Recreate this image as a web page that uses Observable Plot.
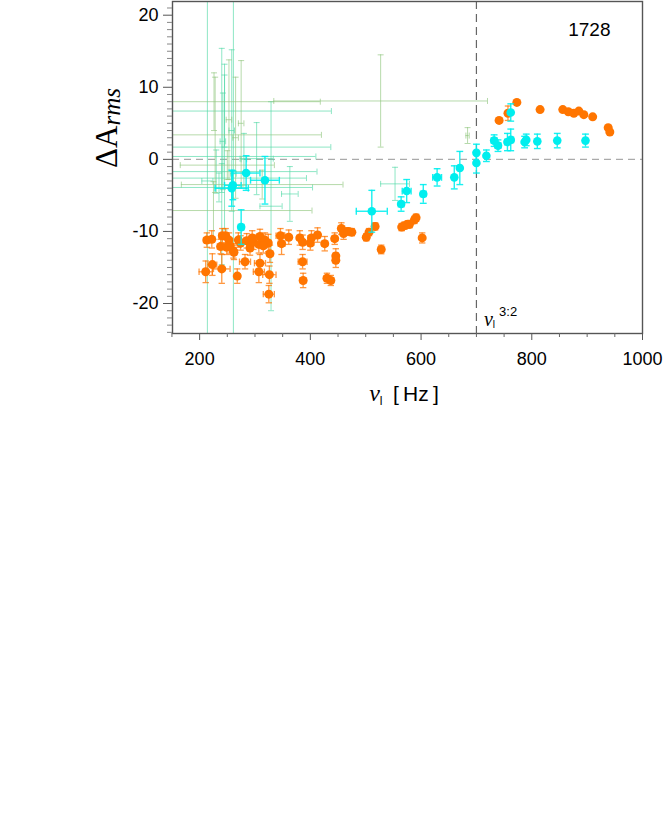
<!DOCTYPE html>
<html><head><meta charset="utf-8">
<script src="https://cdn.jsdelivr.net/npm/d3@7"></script>
<script src="https://cdn.jsdelivr.net/npm/@observablehq/plot@0.6"></script>
<style>
body{margin:0;background:#fff;font-family:"Liberation Sans",Arial,sans-serif}
</style>
</head><body><div id="chart"></div>
<script>
// ---------- data ----------
const orangeNu    = [211,213,222,223,238,240,241,247,253,255,261,268,270,274,282,285,291,297,307,307,309,309,318,324,326,325,327,346,348,361,381,386,386,387,400,402,413,426,430,437,444,446,446,456,460,468,475,501,506,517,528,565,570,576,579,588,591,602,741,757,773,815,856,866,876,885,894,910,938,941,249,262,295,315];
const orangeDA    = [-15.6,-11.2,-11.1,-14.6,-12.1,-15.2,-10.6,-10.6,-11.2,-12.0,-12.7,-16.2,-11.2,-11.6,-14.2,-11.3,-12.3,-11.5,-11.8,-15.6,-10.7,-14.4,-11.2,-11.6,-16.0,-18.7,-13.1,-10.6,-11.7,-10.8,-10.9,-11.5,-14.2,-16.8,-11.6,-10.9,-10.5,-11.7,-16.5,-16.8,-11.0,-13.4,-14.0,-9.6,-10.3,-10.0,-10.1,-10.8,-10.1,-9.3,-12.5,-9.4,-9.2,-9.0,-9.0,-8.4,-8.1,-10.9,5.4,6.4,7.9,6.9,6.9,6.6,6.4,6.7,6.2,5.9,4.4,3.8,-12.2,-12.9,-10.9,-12.0];
const orangeNuErr = [12,6,5,8,6,15,6,5,5,5,5,5,5,5,10,5,5,5,5,10,5,10,5,5,12,10,5,8,6,5,5,5,8,5,5,5,5,5,5,5,5,3,3,3,3,3,3,3,3,3,3,3,3,3,5,3,3,3,0,3,0,0,0,0,0,0,0,0,0,0,5,5,5,5];
const orangeDAErr = [1.5,1.0,1.2,1.5,1.0,2.0,1.0,1.0,1.0,1.0,1.0,1.0,1.0,1.0,1.0,1.0,1.0,1.0,1.2,1.5,1.0,1.2,1.0,1.2,1.2,1.2,1.2,1.0,1.5,1.0,1.0,1.0,1.0,1.0,1.0,1.0,1.0,1.0,0.7,0.7,0.8,1.0,1.0,0.8,0.8,0.5,0.5,0.5,0.5,0.5,0.6,0.5,0.5,0.5,0.5,0.5,0.5,0.7,0.3,1.0,0,0,0,0,0,0,0,0,0,0,1.0,1.0,1.0,1.0];

const cyanNu    = [258,260,275,284,318,511,564,574,604,629,660,670,700,700,718,732,739,756,762,762,787,790,810,846,897];
const cyanDA    = [-4.0,-3.6,-9.4,-1.9,-2.9,-7.2,-6.2,-4.4,-4.8,-2.5,-2.5,-1.2,0.9,-0.5,0.5,2.6,1.9,2.4,2.7,6.5,2.4,2.7,2.5,2.6,2.6];
const cyanNuErr = [30,15,5,25,26,28,5,8,5,8,3,3,3,3,3,5,5,5,5,3,3,3,3,3,3];
const cyanDAErr = [2.5,2.0,2.4,2.4,3.3,2.9,1.0,1.6,1.3,1.2,1.6,2.3,1.2,1.4,0.8,0.8,0.8,1.2,1.5,1.2,0.8,0.8,1.0,1.0,0.9];

// error-bar-only series (two groups)
const tealNu    = [245,245,240,214,261,303,329,363,553,230,240,235,258,280,242];
const tealDA    = [6.7,1.7,0.4,-3.0,-2.0,0.1,-6.5,-4.8,-3.4,-1.7,-2.6,-3.9,4.0,0.0,2.5];
const tealNuErr = [193,192,170,10,5,30,20,15,26,182,153,169,5,5,5];
const tealDAErr = [5.0,11.5,15.0,40,40,5.0,14.5,3.8,2.3,3.0,2.0,2.0,11.2,3.6,6.7];

const oliveNu    = [527,226,228,225,313,684,250,253,265,275];
const oliveDA    = [8.1,8.0,3.4,-7.1,-3.5,3.3,-0.8,5.5,3.0,5.0];
const oliveNuErr = [193,192,192,178,146,3,85,5,5,5];
const oliveDAErr = [6.4,4.0,8.0,4.0,2.0,1.1,2.0,8.3,8.4,8.7];

const xMajor = [200,400,600,800,1000];
const yMajor = [-20,-10,0,10,20];
const sourceLabel = "1728";
const nu32 = 700;

// ---------- tables ----------
const table = (nu, da, ne, de) => nu.map((x,i)=>({x, y: da[i], xe: ne[i], ye: de[i]}));
const orange = table(orangeNu, orangeDA, orangeNuErr, orangeDAErr);
const cyan   = table(cyanNu, cyanDA, cyanNuErr, cyanDAErr);
const teal   = table(tealNu, tealDA, tealNuErr, tealDAErr);
const olive  = table(oliveNu, oliveDA, oliveNuErr, oliveDAErr);

const capH = {draw(ctx, size){const r=Math.sqrt(size/Math.PI); ctx.moveTo(-r,0); ctx.lineTo(r,0);}};
const capV = {draw(ctx, size){const r=Math.sqrt(size/Math.PI); ctx.moveTo(0,-r); ctx.lineTo(0,r);}};

function errorBars(data, color, sw, op, capR){
  const st = {stroke: color, strokeWidth: sw, strokeOpacity: op, clip: true};
  return [
    Plot.ruleX(data.filter(d=>d.ye>0), {x:"x", y1:d=>d.y-d.ye, y2:d=>d.y+d.ye, ...st}),
    Plot.ruleY(data.filter(d=>d.xe>0), {y:"y", x1:d=>d.x-d.xe, x2:d=>d.x+d.xe, ...st}),
    Plot.dot(data.filter(d=>d.ye>0), {x:"x", y:d=>d.y+d.ye, symbol:capH, r:capR, fill:"none", ...st}),
    Plot.dot(data.filter(d=>d.ye>0), {x:"x", y:d=>d.y-d.ye, symbol:capH, r:capR, fill:"none", ...st}),
    Plot.dot(data.filter(d=>d.xe>0), {x:d=>d.x-d.xe, y:"y", symbol:capV, r:capR, fill:"none", ...st}),
    Plot.dot(data.filter(d=>d.xe>0), {x:d=>d.x+d.xe, y:"y", symbol:capV, r:capR, fill:"none", ...st})
  ];
}

const xMinor = d3.range(150, 1001, 50).filter(v=>!xMajor.includes(v));
const yMinor = d3.range(-24, 22, 1).filter(v=>!yMajor.includes(v));

const ORANGE = "#ff7500", CYAN = "#00eeee", TEAL = "#52d8a6", OLIVE = "#8fc47c";

const plot = Plot.plot({
  width: 664, height: 410,
  marginTop: 1, marginBottom: 77, marginLeft: 172, marginRight: 22,
  style: {fontFamily: '"Liberation Sans", Arial, sans-serif', fontSize: "18px", color: "#000", background: "#fff"},
  x: {domain: [151, 1000]},
  y: {domain: [-24.16, 21.9]},
  marks: [
    Plot.ruleY([0], {stroke: "#aaa", strokeWidth: 1.3, strokeDasharray: "7,5"}),
    Plot.ruleX([nu32], {stroke: "#666", strokeWidth: 1.2, strokeDasharray: "8,5"}),
    ...errorBars(teal, TEAL, 1, 0.65, 3),
    ...errorBars(olive, OLIVE, 1, 0.65, 3),
    ...errorBars(orange, ORANGE, 1.3, 0.75, 3.2),
    Plot.dot(orange, {x:"x", y:"y", r:4.5, fill: ORANGE, stroke: "none"}),
    ...errorBars(cyan, CYAN, 1.4, 0.9, 3.4),
    Plot.dot(cyan, {x:"x", y:"y", r:4.3, fill: CYAN, stroke: "none"}),
    Plot.text([sourceLabel], {frameAnchor: "top-right", dx: -32, dy: 21, fontSize: 19, fill: "#000"}),
    Plot.frame({stroke: "#555", strokeWidth: 1.4}),
    Plot.axisX(xMajor, {anchor: "bottom", tickSize: 7, tickPadding: 12, stroke: "#555", label: null, tickFormat: d=>String(d)}),
    Plot.axisX(xMinor, {anchor: "bottom", tickSize: 4, stroke: "#666", label: null, tickFormat: () => ""}),
    Plot.axisY(yMajor, {anchor: "left", tickSize: 9, tickPadding: 5, stroke: "#555", label: null, tickFormat: d=>String(d)}),
    Plot.axisY(yMinor, {anchor: "left", tickSize: 5, stroke: "#888", label: null, tickFormat: () => ""})
  ]
});

const svg = d3.select(plot);
const xs = plot.scale("x");
const x32 = xs.apply(nu32);

// ν_l^{3:2} annotation
const t32 = svg.append("text").attr("x", x32 + 8).attr("y", 326).attr("fill", "#000").attr("text-anchor", "start");
t32.append("tspan").attr("font-family", '"Liberation Serif", serif').attr("font-style", "italic").attr("font-size", 20).text("ν");
t32.append("tspan").attr("font-size", 10).attr("dy", 2).text("l");
t32.append("tspan").attr("font-size", 13).attr("dx", 4).attr("dy", -12).text("3:2");

// x-axis label
const xl = svg.append("text").attr("x", 404).attr("y", 401).attr("text-anchor", "middle").attr("fill", "#000");
xl.append("tspan").attr("font-family", '"Liberation Serif", serif').attr("font-style", "italic").attr("font-size", 24).text("ν");
xl.append("tspan").attr("font-size", 12).attr("dy", 4).text("l");
xl.append("tspan").attr("font-size", 21).attr("dy", -4).attr("font-weight", 300).text("\u2002[\u2009Hz\u2009]");

// y-axis label
const yl = svg.append("text").attr("transform", "translate(117,128) rotate(-90)").attr("text-anchor", "middle").attr("fill", "#000").attr("font-family", '"Liberation Serif", serif');
yl.append("tspan").attr("font-size", 31).text("ΔA");
yl.append("tspan").attr("font-size", 25).attr("font-style", "italic").attr("dy", 3).text("rms");

document.getElementById("chart").appendChild(plot);
</script>
</body></html>
